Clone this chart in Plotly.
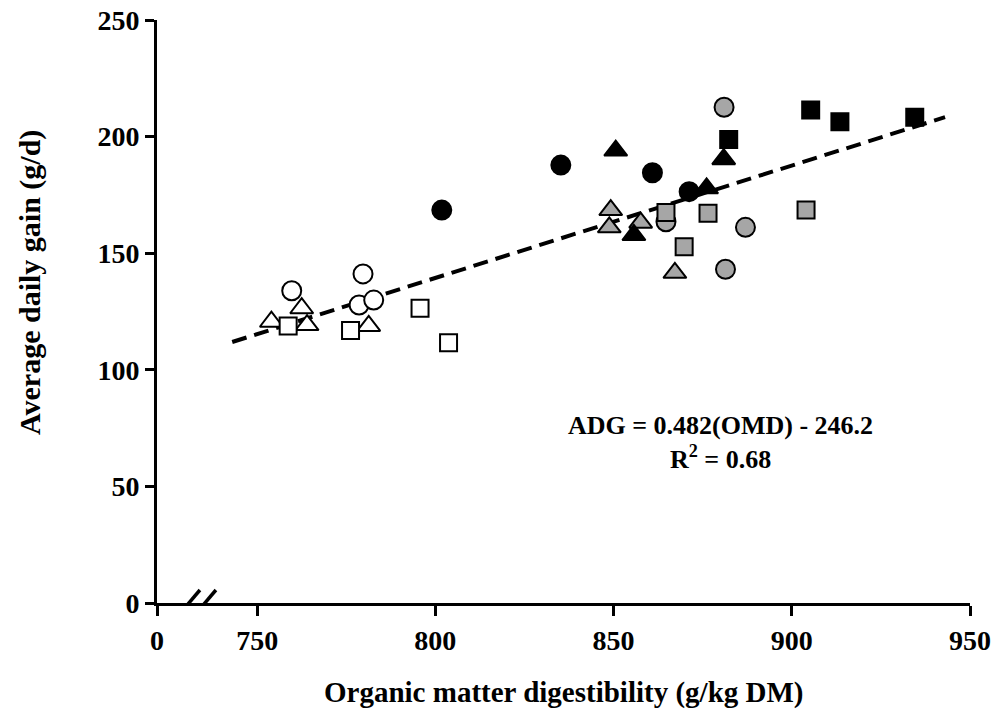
import plotly.graph_objects as go

# ---- data ----
white_circle_x = [759.7, 779.7, 778.6, 782.7]
white_circle_y = [133.9, 141.1, 127.8, 129.9]
white_triangle_x = [754.0, 762.5, 764.0, 781.3]
white_triangle_y = [120.6, 126.4, 119.2, 118.8]
white_square_x = [758.7, 776.2, 795.7, 803.7]
white_square_y = [118.8, 116.8, 126.4, 111.6]

gray_circle_x = [881.0, 864.7, 887.0, 881.4]
gray_circle_y = [212.6, 163.5, 161.1, 143.1]
gray_triangle_x = [849.2, 848.8, 857.6, 867.2]
gray_triangle_y = [168.5, 161.1, 163.1, 141.6]
gray_square_x = [864.7, 876.5, 904.0, 869.8]
gray_square_y = [167.4, 167.1, 168.5, 152.8]

black_circle_x = [801.8, 835.2, 860.9, 871.2]
black_circle_y = [168.5, 187.8, 184.5, 176.4]
black_triangle_x = [850.6, 880.9, 876.1, 855.7]
black_triangle_y = [194.0, 190.3, 177.8, 157.8]
black_square_x = [882.3, 905.3, 913.5, 934.5]
black_square_y = [198.8, 211.4, 206.4, 208.3]

slope = 0.482
intercept = -246.2
r2 = 0.68
fit_x = [743.0, 943.0]

axis_break_origin = 721.9   # where "0" sits on the broken x axis
x_ticks = [750, 800, 850, 900, 950]
y_ticks = [0, 50, 100, 150, 200, 250]

FONT = "Liberation Serif"
GRAY = "#a6a6a6"

fig = go.Figure()

groups = [
    (white_circle_x, white_circle_y, "circle", "white"),
    (white_triangle_x, white_triangle_y, "triangle-up", "white"),
    (white_square_x, white_square_y, "square", "white"),
    (gray_circle_x, gray_circle_y, "circle", GRAY),
    (gray_triangle_x, gray_triangle_y, "triangle-up", GRAY),
    (gray_square_x, gray_square_y, "square", GRAY),
    (black_circle_x, black_circle_y, "circle", "black"),
    (black_triangle_x, black_triangle_y, "triangle-up", "black"),
    (black_square_x, black_square_y, "square", "black"),
]
sizes = {"circle": 19, "triangle-up": 20, "square": 17}

# regression line (drawn below markers)
fit_y = [slope * v + intercept for v in fit_x]
fig.add_trace(go.Scatter(x=fit_x, y=fit_y, mode="lines",
                         line=dict(color="black", width=4, dash="15px,8px"),
                         showlegend=False, hoverinfo="skip"))

for xs, ys, sym, col in groups:
    fig.add_trace(go.Scatter(
        x=xs, y=ys, mode="markers", showlegend=False,
        marker=dict(symbol=sym, size=sizes[sym], color=col,
                    line=dict(color="black", width=2)),
    ))

fig.add_annotation(
    x=880, y=69, xref="x", yref="y", showarrow=False,
    text=f"ADG = {slope}(OMD) - {abs(intercept)}<br>R<sup>2</sup> = {r2}",
    font=dict(family=FONT, size=26, color="black", weight="bold"),
    align="center",
)

# axis titles
fig.add_annotation(
    x=0.5, y=0, xref="paper", yref="paper", yshift=-89, yanchor="middle",
    showarrow=False, text="Organic matter digestibility (g/kg DM)",
    font=dict(family=FONT, size=29, color="black", weight="bold"),
)
fig.add_annotation(
    x=0, y=0.549, xref="paper", yref="paper", xshift=-127, xanchor="center",
    yanchor="middle", textangle=-90, showarrow=False,
    text="Average daily gain (g/d)",
    font=dict(family=FONT, size=30, color="black", weight="bold"),
)

# axis break marks
brk = 733.1
fig.add_shape(type="rect", xref="x", yref="y", xsizemode="pixel", ysizemode="pixel",
              xanchor=brk, yanchor=0, x0=-8, x1=8, y0=-3, y1=3,
              fillcolor="white", line=dict(width=0), layer="above")
for off in (-8, 8):
    fig.add_shape(type="line", xref="x", yref="y", xsizemode="pixel", ysizemode="pixel",
                  xanchor=brk, yanchor=0, x0=off - 11, x1=off + 11, y0=-13, y1=13,
                  line=dict(color="black", width=3.5), layer="above")

fig.update_layout(
    width=994, height=713,
    margin=dict(l=157, r=24, t=20, b=110),
    paper_bgcolor="white", plot_bgcolor="white",
    font=dict(family=FONT, color="black", weight="bold"),
    xaxis=dict(
        range=[axis_break_origin, 950],
        tickvals=[axis_break_origin] + x_ticks,
        ticktext=["0"] + [str(v) for v in x_ticks],
        showline=True, linecolor="black", linewidth=3,
        ticks="outside", ticklen=10, tickwidth=3, tickcolor="black",
        tickfont=dict(family=FONT, size=28, weight="bold"),
        showgrid=False, zeroline=False, automargin=False,
    ),
    yaxis=dict(
        range=[0, 250],
        tickvals=y_ticks,
        showline=True, linecolor="black", linewidth=3,
        ticks="outside", ticklen=9, tickwidth=3, tickcolor="black",
        tickfont=dict(family=FONT, size=28, weight="bold"),
        showgrid=False, zeroline=False, automargin=False,
    ),
)

fig.write_html("out.html")
